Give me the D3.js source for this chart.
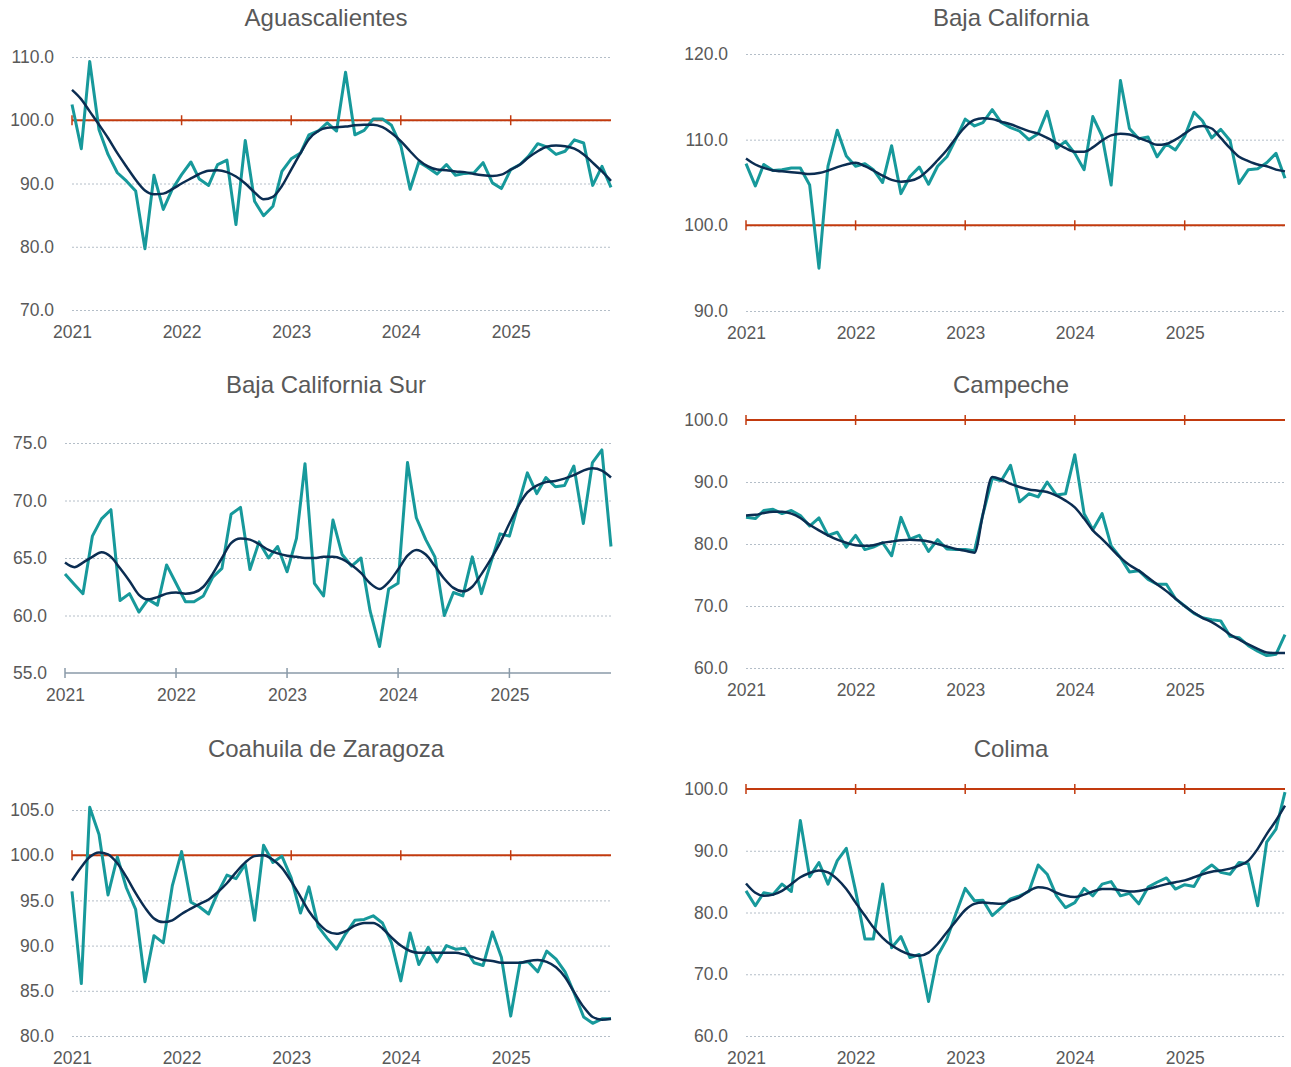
<!DOCTYPE html>
<html>
<head>
<meta charset="utf-8">
<script src="https://cdn.jsdelivr.net/npm/d3@7"></script>
<style>
  body { margin: 0; background: #fff; }
  svg { font-family: "Liberation Sans", Arial, sans-serif; }
  .title { font-size: 24px; fill: #595959; text-anchor: middle; }
  .tick text { font-size: 17.5px; fill: #595959; }
  .grid line { stroke: #b4bec8; stroke-width: 1; stroke-dasharray: 2,2; }
</style>
</head>
<body>
<svg id="chart" width="1291" height="1067"></svg>
<script>
// monthly data, Jan 2021 .. Dec 2025
const months = d3.range(60).map(i => new Date(2021, i, 1))
const years = [2021, 2022, 2023, 2024, 2025].map(y => new Date(y, 0, 1))

const aguasValues = [102.5,95.5,109.3,98.5,94.6,91.7,90.4,88.8,79.7,91.3,
  85.9,89.1,91.4,93.4,90.7,89.7,93.0,93.7,83.5,96.8,
  87.2,84.9,86.4,91.9,93.9,94.8,97.7,98.3,99.6,98.3,
  107.6,97.7,98.4,100.2,100.2,99.2,96.0,89.1,93.4,92.5,
  91.5,93.0,91.3,91.6,91.7,93.3,90.1,89.2,92.2,93.0,
  94.3,96.3,95.8,94.6,95.1,96.9,96.4,89.7,92.7,89.4]
const aguasTrend = [104.8,103.3,101.4,99.3,97.2,94.8,92.7,90.6,88.9,88.3,
  88.4,89.1,90.0,90.8,91.5,92.0,92.1,91.8,91.1,90.0,
  88.6,87.5,87.9,89.6,92.2,94.8,97.0,98.3,98.8,98.9,
  99.0,99.2,99.3,99.3,98.9,98.0,96.7,95.1,93.7,92.7,
  92.2,92.1,91.9,91.8,91.5,91.3,91.2,91.4,92.2,93.0,
  94.1,95.1,95.8,96.0,95.9,95.5,94.6,93.3,91.9,90.4]

const bajaValues = [107.2,104.6,107.1,106.4,106.5,106.7,106.7,104.7,95.0,106.9,
  111.1,108.1,106.9,107.2,106.5,105.0,109.3,103.7,105.7,106.8,
  104.8,106.9,108.0,110.1,112.4,111.6,112.0,113.5,112.0,111.4,
  111.0,110.0,110.7,113.3,109.0,109.8,108.4,106.5,112.7,110.4,
  104.7,116.9,111.3,110.1,110.3,108.0,109.5,108.8,110.4,113.2,
  112.2,110.2,111.2,109.9,104.9,106.5,106.6,107.3,108.4,105.5]
const bajaTrend = [107.8,107.1,106.7,106.4,106.3,106.2,106.1,106.0,106.1,106.4,
  106.8,107.1,107.3,106.9,106.4,105.8,105.3,105.1,105.2,105.6,
  106.5,107.6,108.8,110.2,111.5,112.3,112.5,112.4,112.1,111.8,
  111.4,111.0,110.7,110.2,109.6,109.0,108.6,108.6,109.1,109.9,
  110.5,110.7,110.6,110.2,109.8,109.4,109.5,110.0,110.7,111.4,
  111.6,111.3,110.2,109.0,108.0,107.5,107.1,106.9,106.5,106.3]

const bcsValues = [63.6,62.7,61.9,66.9,68.4,69.2,61.3,61.9,60.3,61.4,
  60.9,64.4,62.8,61.2,61.2,61.7,63.3,64.1,68.8,69.4,
  64.0,66.4,65.0,66.0,63.8,66.7,73.2,62.8,61.7,68.3,
  65.3,64.3,65.0,60.4,57.3,62.3,62.8,73.3,68.5,66.6,
  65.1,60.0,62.0,61.7,65.1,61.9,64.6,67.1,66.9,69.8,
  72.4,70.6,72.0,71.2,71.3,73.0,68.0,73.3,74.4,66.0]
const bcsTrend = [64.6,64.2,64.6,65.1,65.5,65.1,64.1,63.0,61.8,61.4,
  61.6,61.9,62.0,61.9,62.0,62.5,63.6,65.0,66.3,66.7,
  66.6,66.2,65.7,65.4,65.2,65.1,65.0,65.0,65.1,65.1,
  64.9,64.4,63.7,62.8,62.3,62.9,64.0,65.2,65.7,65.3,
  64.3,63.2,62.4,62.1,62.5,63.6,64.9,66.3,68.0,69.6,
  70.7,71.3,71.6,71.7,71.9,72.2,72.6,72.8,72.6,72.0]

const campValues = [84.3,84.1,85.4,85.6,84.9,85.4,84.6,82.9,84.2,81.4,
  81.9,79.5,81.4,79.1,79.5,80.2,78.1,84.3,80.8,81.4,
  78.8,80.7,79.2,79.1,79.1,78.9,84.8,90.6,90.2,92.7,
  86.8,88.1,87.6,90.0,87.9,88.1,94.4,84.9,82.3,84.9,
  79.7,77.8,75.5,75.7,74.3,73.5,73.5,71.2,70.0,68.8,
  68.1,67.8,67.6,65.1,64.9,63.6,62.7,62.0,62.2,65.4]
const campTrend = [84.6,84.7,85.0,85.2,85.2,84.9,84.2,83.1,82.2,81.4,
  80.7,80.2,79.8,79.7,79.8,80.2,80.4,80.6,80.7,80.6,
  80.4,80.0,79.6,79.2,78.9,78.6,84.8,90.8,90.4,89.7,
  89.2,88.8,88.6,88.4,87.8,87.0,85.9,84.1,82.2,80.8,
  79.3,77.8,76.6,75.7,74.6,73.5,72.4,71.2,70.0,68.9,
  68.1,67.4,66.5,65.4,64.6,63.8,63.1,62.5,62.4,62.4]

const coahValues = [96.0,85.8,105.3,102.3,95.6,99.8,96.4,94.0,86.0,91.1,
  90.3,96.6,100.4,94.8,94.3,93.5,95.8,97.8,97.4,99.0,
  92.8,101.1,99.2,99.9,97.5,93.6,96.5,92.1,90.8,89.6,
  91.3,92.8,92.9,93.3,92.5,90.3,86.1,91.4,87.9,89.8,
  88.2,90.0,89.6,89.7,88.1,87.8,91.5,88.7,82.2,88.1,
  88.2,87.1,89.4,88.5,87.1,84.7,82.1,81.4,81.9,81.9]
const coahTrend = [97.2,98.7,99.8,100.3,100.1,99.1,97.6,95.8,94.2,93.0,
  92.6,92.8,93.5,94.1,94.6,95.1,95.9,96.9,98.1,99.2,
  99.9,100.0,99.5,98.6,97.1,95.4,93.8,92.5,91.6,91.3,
  91.6,92.2,92.5,92.5,91.9,90.9,90.0,89.4,89.2,89.2,
  89.2,89.2,89.2,89.0,88.7,88.4,88.3,88.1,88.1,88.1,
  88.3,88.4,88.2,87.6,86.5,84.8,83.2,82.1,81.8,81.9]

const colimaValues = [83.5,81.1,83.2,82.9,84.6,83.4,94.9,85.8,88.1,84.6,
  88.4,90.4,83.5,75.7,75.7,84.6,74.3,76.1,72.7,73.2,
  65.6,73.0,75.7,79.8,83.9,81.9,82.0,79.5,80.8,82.2,
  82.7,83.4,87.7,86.2,82.7,80.8,81.6,83.9,82.7,84.6,
  85.0,82.7,83.1,81.4,84.1,84.9,85.6,83.8,84.5,84.2,
  86.6,87.7,86.5,86.2,88.1,87.9,81.1,91.4,93.5,99.5]
const colimaTrend = [84.7,83.2,82.7,82.9,83.5,84.6,85.7,86.4,86.8,86.5,
  85.4,83.8,81.6,79.5,77.6,75.9,74.7,73.8,73.2,73.0,
  73.5,74.9,76.8,78.6,80.4,81.4,81.6,81.5,81.4,81.9,
  82.5,83.5,84.1,83.9,83.2,82.7,82.5,82.9,83.4,83.8,
  83.8,83.6,83.4,83.5,83.8,84.2,84.6,84.9,85.2,85.7,
  86.2,86.6,86.8,87.1,87.6,88.4,90.3,92.7,94.9,97.3]

const panels = [
  { title: "Aguascalientes", values: aguasValues, trend: aguasTrend,
    yTicks: [70, 80, 90, 100, 110], x0: 72, x1: 611, yTop: 57, yBot: 310, titleX: 326, titleY: 26 },
  { title: "Baja California", values: bajaValues, trend: bajaTrend,
    yTicks: [90, 100, 110, 120], x0: 746, x1: 1285, yTop: 54, yBot: 311, titleX: 1011, titleY: 26 },
  { title: "Baja California Sur", values: bcsValues, trend: bcsTrend,
    yTicks: [55, 60, 65, 70, 75], x0: 65, x1: 611, yTop: 443, yBot: 673, titleX: 326, titleY: 393, axisLine: true },
  { title: "Campeche", values: campValues, trend: campTrend,
    yTicks: [60, 70, 80, 90, 100], x0: 746, x1: 1285, yTop: 420, yBot: 668, titleX: 1011, titleY: 393 },
  { title: "Coahuila de Zaragoza", values: coahValues, trend: coahTrend,
    yTicks: [80, 85, 90, 95, 100, 105], x0: 72, x1: 611, yTop: 810, yBot: 1036, titleX: 326, titleY: 757 },
  { title: "Colima", values: colimaValues, trend: colimaTrend,
    yTicks: [60, 70, 80, 90, 100], x0: 746, x1: 1285, yTop: 789, yBot: 1036, titleX: 1011, titleY: 757 }
]

const svg = d3.select("#chart")
const teal = "#17999b", navy = "#0b2d52", red = "#c23a0e", axisGray = "#8a9aa8"

panels.forEach(p => {
  const g = svg.append("g")
  const x = d3.scaleTime().domain([months[0], months[59]]).range([p.x0, p.x1])
  const y = d3.scaleLinear().domain(d3.extent(p.yTicks)).range([p.yBot, p.yTop])

  g.append("text").attr("class", "title")
    .attr("x", p.titleX).attr("y", p.titleY)
    .text(p.title)

  // dashed grid
  const gridTicks = p.axisLine ? p.yTicks.slice(1) : p.yTicks
  g.append("g").attr("class", "grid")
    .selectAll("line").data(gridTicks).join("line")
    .attr("x1", p.x0).attr("x2", p.x1)
    .attr("y1", d => y(d) + 0.5).attr("y2", d => y(d) + 0.5)

  // y labels
  const yAxis = g.append("g")
    .attr("transform", `translate(${p.x0 - 8},0)`)
    .call(d3.axisLeft(y).tickValues(p.yTicks).tickFormat(d3.format(".1f")).tickSize(0).tickPadding(10))
  yAxis.select(".domain").remove()

  // x labels
  const xAxis = g.append("g")
    .attr("transform", `translate(0,${p.yBot + 10})`)
    .call(d3.axisBottom(x).tickValues(years).tickFormat(d3.timeFormat("%Y")).tickSize(0).tickPadding(6))
  xAxis.select(".domain").remove()

  if (p.axisLine) {
    g.append("line")
      .attr("x1", p.x0).attr("x2", p.x1)
      .attr("y1", p.yBot).attr("y2", p.yBot)
      .attr("stroke", axisGray).attr("stroke-width", 1.5)
    g.selectAll(".xt").data(years).join("line")
      .attr("x1", d => x(d)).attr("x2", d => x(d))
      .attr("y1", p.yBot - 5).attr("y2", p.yBot + 5)
      .attr("stroke", axisGray).attr("stroke-width", 1.5)
  }

  // reference line at 100
  if (y.domain()[0] <= 100 && y.domain()[1] >= 100) {
    g.append("line")
      .attr("x1", p.x0).attr("x2", p.x1)
      .attr("y1", y(100)).attr("y2", y(100))
      .attr("stroke", red).attr("stroke-width", 2)
    g.selectAll(".rt").data(years).join("line")
      .attr("x1", d => x(d)).attr("x2", d => x(d))
      .attr("y1", y(100) - 5).attr("y2", y(100) + 5)
      .attr("stroke", red).attr("stroke-width", 1.5)
  }

  const raw = d3.line().x((d, i) => x(months[i])).y(d => y(d))
  const smooth = d3.line().x((d, i) => x(months[i])).y(d => y(d)).curve(d3.curveMonotoneX)

  g.append("path").datum(p.values)
    .attr("d", raw).attr("fill", "none")
    .attr("stroke", teal).attr("stroke-width", 3).attr("stroke-linejoin", "round")

  g.append("path").datum(p.trend)
    .attr("d", smooth).attr("fill", "none")
    .attr("stroke", navy).attr("stroke-width", 2.5)
})
</script>
</body>
</html>
